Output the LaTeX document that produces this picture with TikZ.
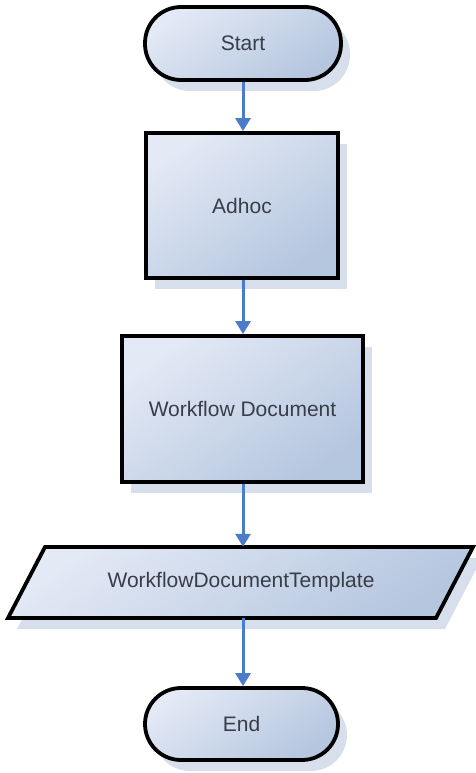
\documentclass[tikz,border=0pt]{standalone}
\usepackage{fontspec}
\setmainfont{Liberation Sans}
\usetikzlibrary{shadows,arrows.meta}
\definecolor{txt}{HTML}{383D48}
\definecolor{topc}{HTML}{E3E9F5}
\definecolor{botc}{HTML}{B5C6DF}
\definecolor{shad}{HTML}{D6DFEB}
\definecolor{arr}{HTML}{4A7CC7}
\begin{document}
\begin{tikzpicture}[x=1pt,y=-1pt,
  fillgrad/.style={top color=topc, bottom color=botc, shading angle=35},
  lbl/.style={text=txt, font=\fontsize{21}{25}\selectfont},
  box/.style={draw=black, line width=3.8pt, fillgrad, lbl, inner sep=0pt,
    drop shadow={shadow xshift=9pt, shadow yshift=-11pt, fill=shad, opacity=1}},
  term/.style={box, rectangle, rounded corners=36pt},
  proc/.style={box, rectangle},
  conn/.style={draw=arr, line width=3pt, -{Triangle[length=13pt,width=15pt]}}]
\useasboundingbox (0,0) rectangle (476,773);
\node[term, minimum width=196pt, minimum height=73pt] (start) at (243,43.5) {Start};
\node[proc, minimum width=192pt, minimum height=145pt] (adhoc) at (242,205.5) {Adhoc};
\node[proc, minimum width=241pt, minimum height=146pt] (wfd) at (242.5,409) {Workflow Document};
% parallelogram
\fill[shad] (54,558) -- (482,558) -- (445,629) -- (17,629) -- cycle;
\draw[line width=3.8pt, fillgrad] (45,547) -- (473,547) -- (436,618) -- (8,618) -- cycle;
\node[inner sep=0pt, minimum width=300pt, minimum height=71pt, lbl] (tpl) at (241,582.5) {WorkflowDocumentTemplate};
\node[term, minimum width=193pt, minimum height=72pt] (end) at (241.5,724) {End};
\draw[conn] (start.south -| 243,0) -- (adhoc.north -| 243,0);
\draw[conn] (adhoc.south -| 243,0) -- (wfd.north -| 243,0);
\draw[conn] (wfd.south -| 243,0) -- (tpl.north -| 243,0);
\draw[conn] (tpl.south -| 243,0) -- (end.north -| 243,0);
\end{tikzpicture}
\end{document}
